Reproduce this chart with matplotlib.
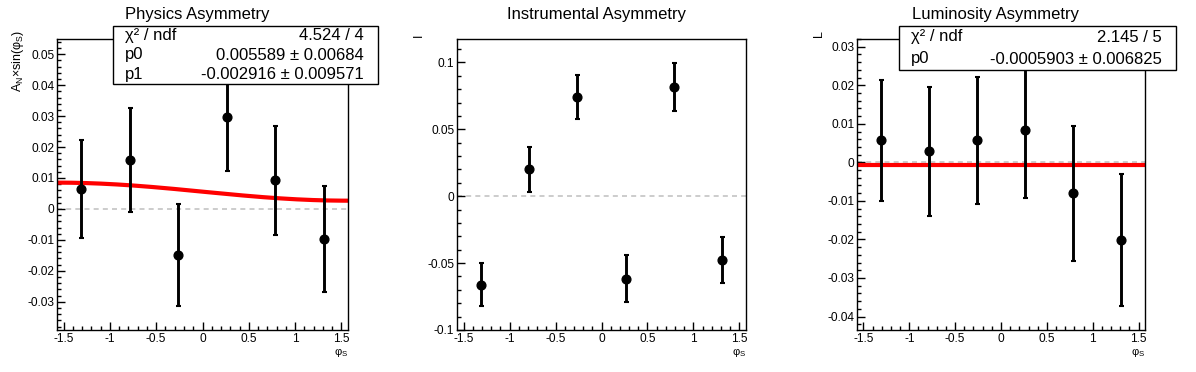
import numpy as np
import matplotlib.pyplot as plt
from matplotlib.ticker import MultipleLocator, FuncFormatter
from matplotlib.patches import Rectangle

plt.rcParams['font.family'] = ['Liberation Sans', 'DejaVu Sans']
plt.rcParams['mathtext.fontset'] = 'custom'
plt.rcParams['mathtext.rm'] = 'Liberation Sans'
plt.rcParams['mathtext.it'] = 'Liberation Sans'
plt.rcParams['axes.unicode_minus'] = False

# bin centres in phi_S
phi = [-1.309, -0.785, -0.262, 0.262, 0.785, 1.309]

# physics asymmetry
phys_y = [0.0065, 0.0158, -0.0150, 0.0296, 0.0093, -0.0098]
phys_err = [0.0159, 0.0168, 0.0165, 0.0175, 0.0176, 0.0171]
phys_p0, phys_p1 = 0.005589, -0.002916

# instrumental asymmetry
inst_y = [-0.0662, 0.0200, 0.0742, -0.0617, 0.0818, -0.0480]
inst_err = [0.0162, 0.0166, 0.0166, 0.0174, 0.0180, 0.0172]

# luminosity asymmetry
lumi_y = [0.0057, 0.0029, 0.0057, 0.0083, -0.0080, -0.0202]
lumi_err = [0.0157, 0.0167, 0.0164, 0.0175, 0.0175, 0.0171]
lumi_p0 = -0.0005903

titles = ["Physics Asymmetry", "Instrumental Asymmetry", "Luminosity Asymmetry"]
ylabels = [r"A$_{\rm N}$×sin(φ$_{\rm S}$)", "I", "L"]

W, H = 1196, 372
fig = plt.figure(figsize=(W / 100, H / 100), dpi=100)


def fx(px):
    return px / W


def fy(py):
    return 1 - py / H


fmt = FuncFormatter(lambda v, p: "%g" % round(v, 6))
half_pi = np.pi / 2

panels = [
    (57, 348, phys_y, phys_err, (-0.0391, 0.0549), 0.01, 0.002),
    (457, 746, inst_y, inst_err, (-0.1, 0.1175), 0.05, 0.01),
    (857, 1145, lumi_y, lumi_err, (-0.0435, 0.0320), 0.01, 0.002),
]

axes = []
for i, (x0, x1, yv, ye, ylim, major, minor) in enumerate(panels):
    ax = fig.add_axes([fx(x0), fy(330), (x1 - x0) / W, (330 - 39) / H])
    ax.set_xlim(-half_pi, half_pi)
    ax.set_ylim(*ylim)
    ax.axhline(0, color="#c4c4c4", ls=(0, (3, 2.5)), lw=1.2, zorder=1)
    ax.errorbar(phi, yv, yerr=ye, fmt="o", color="black", ms=6.3,
                elinewidth=2.1, capsize=1.8, capthick=1.5, zorder=3)
    ax.xaxis.set_major_locator(MultipleLocator(0.5))
    ax.xaxis.set_minor_locator(MultipleLocator(0.1))
    ax.yaxis.set_major_locator(MultipleLocator(major))
    ax.yaxis.set_minor_locator(MultipleLocator(minor))
    ax.xaxis.set_major_formatter(fmt)
    ax.yaxis.set_major_formatter(fmt)
    ax.tick_params(which="both", direction="in", top=False, right=False,
                   labelsize=8.6, pad=2, width=1)
    ax.tick_params(which="major", length=5.5)
    ax.tick_params(which="minor", length=3)
    for s in ax.spines.values():
        s.set_linewidth(1)
    axes.append(ax)

    # titles and axis labels
    fig.text(fx((x0 + x1) / 2 - 5), fy(15), titles[i], ha="center",
             va="center", fontsize=12)
    fig.text(fx(x1 - 7), fy(353), r"φ$_{\rm S}$", ha="center", va="center",
             fontsize=8)

fig.text(fx(18), fy(30), ylabels[0], rotation=90, ha="center", va="top",
         fontsize=9)
fig.text(fx(419), fy(34), ylabels[1], rotation=90, ha="center", va="top",
         fontsize=9)
fig.text(fx(819), fy(30), ylabels[2], rotation=90, ha="center", va="top",
         fontsize=9)

# fit lines
xs = np.linspace(-half_pi, half_pi, 200)
axes[0].plot(xs, phys_p0 + phys_p1 * np.sin(xs), color="red", lw=3, zorder=2)
axes[2].plot(xs, np.full_like(xs, lumi_p0), color="red", lw=3, zorder=2)


def stats_box(left, right, top, bottom, rows):
    fig.patches.append(Rectangle((fx(left), fy(bottom)), (right - left) / W,
                                 (bottom - top) / H, transform=fig.transFigure,
                                 fc="white", ec="black", lw=1, zorder=5))
    n = len(rows)
    step = (bottom - top) / n
    for k, (name, val) in enumerate(rows):
        yc = top + step * (k + 0.5)
        fig.text(fx(left + 12), fy(yc), name, ha="left", va="center",
                 fontsize=12, zorder=6)
        fig.text(fx(right - 14), fy(yc), val, ha="right", va="center",
                 fontsize=12, zorder=6)


stats_box(113, 378, 26, 84, [("χ² / ndf", "4.524 / 4"),
                             ("p0", "0.005589 ± 0.00684"),
                             ("p1", "-0.002916 ± 0.009571")])
stats_box(899, 1176, 26, 70, [("χ² / ndf", "2.145 / 5"),
                              ("p0", "-0.0005903 ± 0.006825")])

fig.savefig("out.png", dpi=100)
